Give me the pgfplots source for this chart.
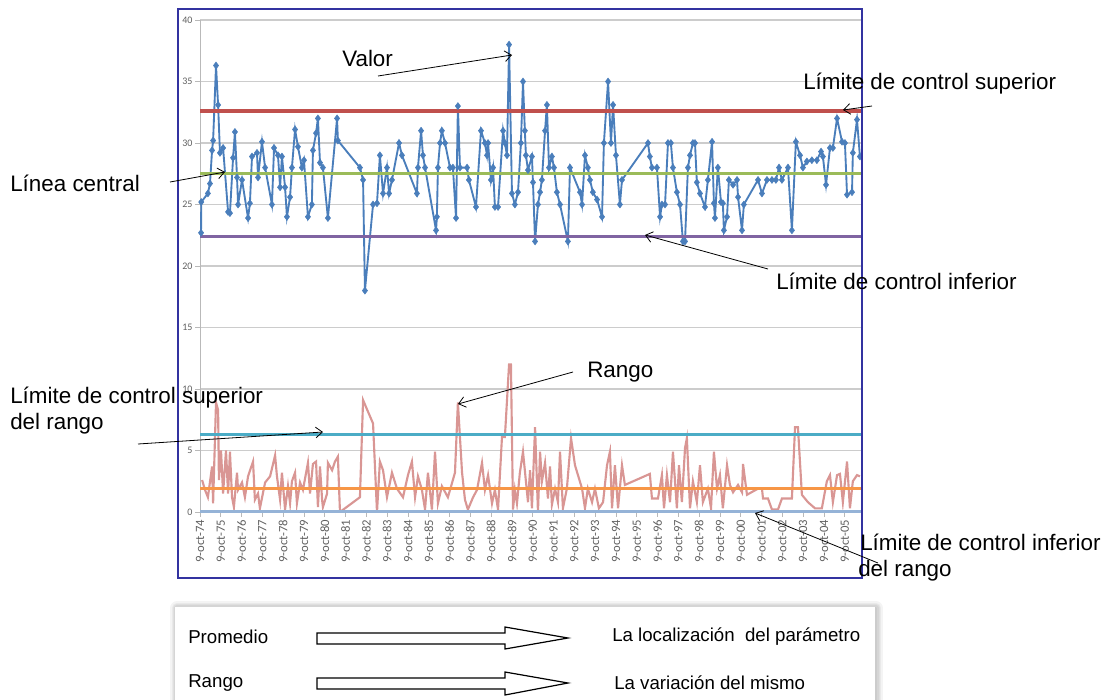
\documentclass[border=0pt]{standalone}
\usepackage{fontspec}
\setmainfont{Liberation Sans}
\newfontfamily\tickfont{Carlito}
\usepackage{pgfplots}
\pgfplotsset{compat=1.18}
\usetikzlibrary{arrows.meta}
\definecolor{serblue}{HTML}{4A7EBB}
\definecolor{serpink}{HTML}{D99694}
\definecolor{lcsred}{HTML}{C0504D}
\definecolor{lcgreen}{HTML}{9BBB59}
\definecolor{lcipurple}{HTML}{8064A2}
\definecolor{rteal}{HTML}{4BACC6}
\definecolor{rorange}{HTML}{F79646}
\definecolor{rlblue}{HTML}{95B3D7}
\definecolor{framecol}{RGB}{50,50,160}
\begin{document}
\begin{tikzpicture}
\path[use as bounding box] (0,0) rectangle (828pt,-525pt);
\begin{axis}[
  at={(150pt,-384pt)}, anchor=south west,
  scale only axis, width=496.5pt, height=369pt,
  xmin=0, xmax=31.83, ymin=0, ymax=40,
  axis x line*=bottom, axis y line*=left,
  axis line style={draw=gray!55, line width=0.6pt},
  tick style={draw=gray!55, line width=0.5pt},
  tick align=outside, major tick length=3.5pt,
  ytick={0,5,...,40},
  xtick={0,...,31},
  xticklabels={9-oct-74,9-oct-75,9-oct-76,9-oct-77,9-oct-78,9-oct-79,9-oct-80,9-oct-81,9-oct-82,9-oct-83,9-oct-84,9-oct-85,9-oct-86,9-oct-87,9-oct-88,9-oct-89,9-oct-90,9-oct-91,9-oct-92,9-oct-93,9-oct-94,9-oct-95,9-oct-96,9-oct-97,9-oct-98,9-oct-99,9-oct-00,9-oct-01,9-oct-02,9-oct-03,9-oct-04,9-oct-05},
  xticklabel style={rotate=90, anchor=east, font=\tickfont\fontsize{9.5}{9.5}\selectfont, text=gray!75!black, inner sep=2pt},
  yticklabel style={font=\tickfont\fontsize{7.5}{8}\selectfont, text=gray!75!black, inner sep=2pt},
  /pgf/number format/assume math mode=true,
  ymajorgrids, major grid style={draw=gray!40, line width=1.1pt},
]
% Range series
\addplot[serpink, line width=1.6pt, no marks] coordinates {
(0.10,2.6)(0.24,1.8)(0.38,1.2)(0.58,3.7)(0.63,0.7)(0.77,8.9)(0.87,8.3)(0.91,2.6)(1.01,5)(1.11,1.5)(1.25,5)(1.35,1.5)(1.44,4.9)(1.54,1.2)(1.63,0.4)(1.78,3.2)(1.83,1.8)(2.02,2.4)(2.16,1.2)(2.31,2.9)(2.55,4.1)(2.64,1)(2.79,1.5)(2.88,0.3)(3.13,2.4)(3.37,2.9)(3.61,4.6)(3.70,2.9)(3.85,1)(3.94,3.2)(4.09,0.2)(4.23,2.1)(4.33,0.7)(4.42,2.5)(4.57,3.2)(4.66,0.7)(4.81,2.4)(4.95,1.8)(5.19,4)(5.29,1.5)(5.43,3.9)(5.58,4.1)(5.67,0.4)(5.77,3.7)(5.87,1)(5.91,0.4)(6.11,1.5)(6.15,4)(6.35,3.4)(6.49,4.1)(6.63,4.5)(6.73,0)(7.69,1.2)(7.84,9.1)(8.32,7.2)(8.51,0)(8.65,4.1)(8.80,3.4)(8.99,1.2)(9.23,3.2)(9.47,1.9)(9.76,1.2)(10.00,3)(10.19,4.1)(10.34,1.2)(10.48,2.9)(10.67,1.8)(10.82,0.2)(10.96,3.2)(11.15,0.2)(11.30,4.9)(11.44,0.7)(11.63,2.1)(11.92,1.2)(12.26,3.2)(12.40,8.9)(12.60,3.2)(12.74,1)(12.88,0.2)(13.13,1.2)(13.32,1.8)(13.56,4)(13.70,1.8)(13.85,3)(14.04,0.7)(14.18,1.8)(14.33,0.2)(14.52,6.1)(14.66,6.1)(14.86,12)(14.95,12)(15.05,0.2)(15.14,1.8)(15.24,0.7)(15.38,3.2)(15.53,4.9)(15.77,0.8)(15.87,3.4)(15.96,0.3)(16.11,6.9)(16.25,0)(16.35,4.9)(16.44,2.5)(16.59,4.0)(16.73,1.1)(16.83,3.7)(16.92,0.6)(17.07,1.9)(17.21,0.8)(17.31,4.9)(17.45,0.3)(17.64,1.9)(17.84,6.0)(18.03,3.8)(18.37,1.9)(18.51,0.3)(18.65,1.9)(18.85,0.8)(18.99,1.9)(19.18,0.3)(19.38,0.8)(19.57,3.8)(19.71,4.9)(19.81,0.3)(19.95,3.8)(20.10,0.3)(20.29,3.8)(20.43,2.2)(21.63,3.1)(21.73,1.1)(22.02,1.1)(22.21,3.0)(22.31,0.3)(22.45,3.0)(22.60,0.8)(22.74,4.9)(22.93,0.3)(23.03,3.8)(23.17,0.8)(23.32,5.2)(23.41,6.0)(23.56,0.3)(23.70,2.5)(23.89,0.8)(24.04,3.8)(24.18,0.8)(24.42,1.9)(24.57,0.3)(24.71,4.9)(24.86,1.9)(25.00,3.0)(25.14,0.3)(25.34,3.8)(25.48,2.2)(25.63,1.6)(25.87,2.2)(26.06,1.6)(26.11,3.9)(26.30,1.4)(26.83,1.9)(27.02,1.9)(27.07,1.1)(27.31,1.1)(27.50,0.2)(27.79,0.2)(27.98,1.1)(28.46,1.1)(28.61,6.9)(28.75,6.9)(28.94,1.4)(29.23,0.8)(29.57,0.3)(29.90,0.3)(30.14,2.5)(30.29,3.0)(30.43,0.8)(30.63,3.0)(30.77,3.1)(30.91,0.8)(31.11,4.1)(31.25,0.3)(31.39,2.5)(31.59,3.0)(31.73,2.9)
};
% Mean series
\addplot[serblue, line width=1.4pt, mark=diamond*, mark size=2.6pt, mark options={fill=serblue, draw=serblue, line width=0.4pt}] coordinates {
(0.05,22.7)(0.06,25.2)(0.38,25.9)(0.48,26.7)(0.58,29.4)(0.63,30.2)(0.77,36.3)(0.87,33.1)(0.96,29.2)(1.11,29.6)(1.35,24.4)(1.44,24.3)(1.59,28.8)(1.68,30.9)(1.78,27.2)(1.83,25)(2.02,27)(2.31,23.9)(2.40,25.1)(2.50,28.9)(2.74,29.2)(2.79,27.2)(2.98,30.1)(3.13,28)(3.46,25)(3.56,29.6)(3.75,29)(3.85,26.4)(3.94,28.9)(4.09,26.4)(4.18,24)(4.33,25.6)(4.42,28)(4.57,31.1)(4.71,29.7)(4.90,28)(5.00,28.6)(5.19,24)(5.38,25)(5.43,29.4)(5.58,30.8)(5.67,32)(5.77,28.4)(5.91,28)(6.15,23.9)(6.59,32)(6.63,30.2)(7.69,28)(7.84,27)(7.93,18)(8.32,25)(8.51,25.1)(8.65,29)(8.80,25.9)(8.99,28)(9.09,25.9)(9.23,27)(9.57,30)(9.71,29)(10.43,25.9)(10.48,28)(10.63,31)(10.72,29)(10.82,28)(11.35,22.9)(11.39,24)(11.44,28)(11.54,30)(11.63,31)(11.78,30)(12.02,28)(12.16,28)(12.31,23.9)(12.40,33)(12.50,28)(12.84,28)(12.93,27)(13.27,24.8)(13.51,31)(13.70,30)(13.80,29)(13.85,30)(13.99,27)(14.09,28)(14.18,24.8)(14.33,24.8)(14.57,31)(14.66,30)(14.76,29)(14.86,38)(15.00,25.9)(15.14,25)(15.29,26)(15.43,30)(15.53,35)(15.62,31)(15.67,29)(15.77,27.8)(15.96,28.9)(16.01,26.8)(16.11,22)(16.25,25)(16.35,26)(16.44,27)(16.59,31)(16.68,33.1)(16.78,28)(16.92,28.9)(17.02,28)(17.16,26)(17.31,25)(17.69,22)(17.79,28)(18.27,26)(18.37,25)(18.51,29)(18.65,28)(18.75,27)(18.89,26)(19.09,25.4)(19.33,24)(19.42,30)(19.62,35)(19.76,30)(19.86,33.1)(20.00,29)(20.19,25)(20.29,27)(21.54,30)(21.63,28.9)(21.73,28)(21.97,28)(22.12,24)(22.21,25)(22.36,25)(22.50,30)(22.64,30)(22.74,28)(22.93,26)(23.08,25)(23.22,22)(23.32,22)(23.46,28)(23.56,29)(23.70,30)(23.80,30)(23.89,26.8)(24.04,25.9)(24.28,24.8)(24.42,27)(24.62,30.1)(24.71,25.1)(24.76,23.9)(24.90,28)(25.05,25.2)(25.14,25.1)(25.19,22.9)(25.34,24)(25.43,27)(25.63,26.6)(25.82,27)(25.87,25.6)(26.06,22.9)(26.15,25)(26.83,27)(27.02,25.9)(27.26,27)(27.50,27)(27.69,27)(27.84,28)(27.98,27)(28.27,28)(28.46,22.9)(28.65,30.1)(28.85,29)(28.99,28)(29.18,28.5)(29.42,28.6)(29.66,28.6)(29.86,29.3)(29.95,28.9)(30.10,26.6)(30.29,29.6)(30.43,29.6)(30.63,32)(30.87,30.1)(31.01,30)(31.11,25.8)(31.35,26)(31.39,29.2)(31.59,31.9)(31.73,28.9)
};
% Control limits
\addplot[lcsred, line width=2.4pt, no marks] coordinates {(0,32.6) (31.83,32.6)};
\addplot[lcgreen, line width=2.4pt, no marks] coordinates {(0,27.5) (31.83,27.5)};
\addplot[lcipurple, line width=2.4pt, no marks] coordinates {(0,22.4) (31.83,22.4)};
\addplot[rteal, line width=2.4pt, no marks] coordinates {(0,6.3) (31.83,6.3)};
\addplot[rorange, line width=2.4pt, no marks] coordinates {(0,1.9) (31.83,1.9)};
\addplot[rlblue, line width=2.4pt, no marks] coordinates {(0,0) (31.83,0)};
\end{axis}
\begin{scope}[x=0.75pt, y=-0.75pt]
\draw[framecol, line width=0.8pt] (178,9) rectangle (862,578);
\begin{scope}[every node/.style={anchor=west, inner sep=0pt, font=\fontsize{16.8}{20}\selectfont}]
\node at (342,58) {Valor};
\node at (803,84) {Límite de control superior};
\node at (10,183) {Línea central};
\node at (776,281) {Límite de control inferior};
\node at (587,372) {Rango};
\node at (10,398) {Límite de control superior};
\node at (10,424) {del rango};
\node at (860,542) {Límite de control inferior};
\node at (858,571) {del rango};
\end{scope}
\begin{scope}[line width=0.6pt, -{Straight Barb[length=5pt,width=8pt]}]
\draw (378,76) -- (512,55);
\draw (872,106) -- (843,110);
\draw (170,182) -- (225,172);
\draw (768,269) -- (645,235);
\draw (573,372) -- (458,404);
\draw (138,444) -- (323,432);
\draw (878,563) -- (755,513);
\end{scope}
% soft shadow around the note box
\foreach \w in {10,8,6,4,2} {
  \draw[black, opacity=0.045, line width=\w pt, line join=round] (177,608) rectangle (876,740);
}
\fill[white] (175,607) rectangle (875,740);
\begin{scope}[every node/.style={anchor=west, inner sep=0pt, font=\fontsize{14}{16}\selectfont}]
\node at (188,637) {Promedio};
\node at (188,683) {Rango};
\node at (612,637) {La localización\ \ del parámetro};
\node at (614,683) {La variación del mismo};
\end{scope}
\draw[line width=0.9pt, fill=white] (317,633) -- (505,633) -- (505,627) -- (568,638) -- (505,649) -- (505,644) -- (317,644) -- cycle;
\draw[line width=0.9pt, fill=white] (317,678) -- (505,678) -- (505,672) -- (568,683) -- (505,695) -- (505,689) -- (317,689) -- cycle;
\end{scope}
\end{tikzpicture}
\end{document}
